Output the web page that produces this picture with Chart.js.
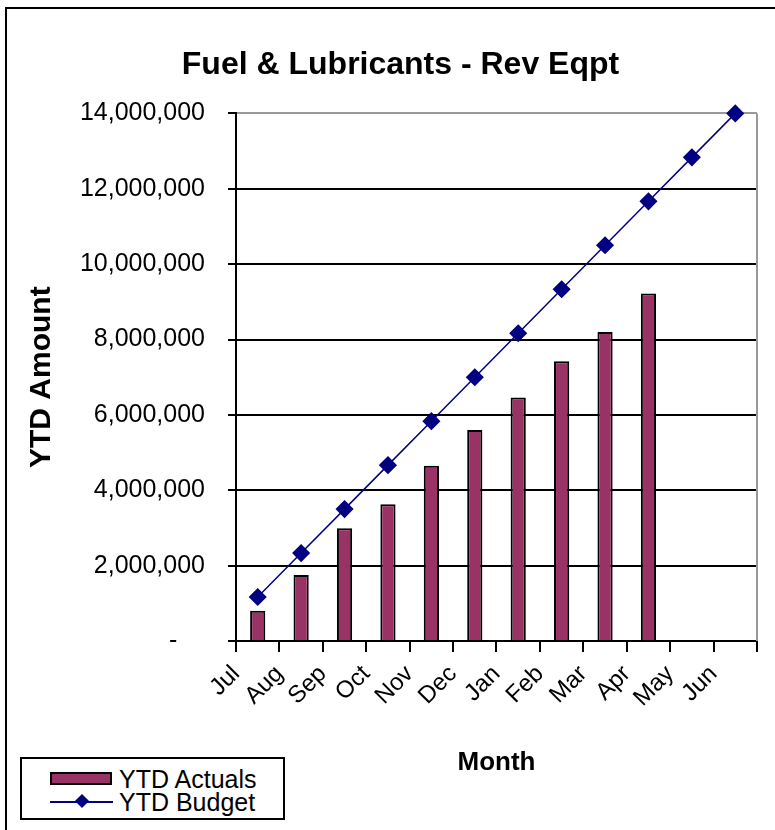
<!DOCTYPE html>
<html>
<head>
<meta charset="utf-8">
<title>Fuel &amp; Lubricants - Rev Eqpt</title>
<script src="https://cdn.jsdelivr.net/npm/chart.js@4.4.1/dist/chart.umd.min.js"></script>
<style>
  body { margin: 0; background: #fff; overflow: hidden; font-family: "Liberation Sans", Arial, sans-serif; }
  #frame { position: absolute; left: 5px; top: 7px; width: 900px; height: 900px; border: 2px solid #000; }
  #wrap { position: absolute; left: 0; top: 0; width: 775px; height: 830px; }
  #legend { position: absolute; left: 20px; top: 757px; width: 261px; height: 59px; border: 2px solid #000; background: #fff; }
  .row { position: absolute; left: 0; height: 24px; line-height: 24px; font-size: 25px; color: #000; }
  .row span.txt { position: absolute; left: 97px; white-space: nowrap; }
  .swatch-bar { position: absolute; left: 28px; top: 5px; width: 58px; height: 9px; background: #993366; border: 2px solid #000; }
  .swatch-line { position: absolute; left: 28px; top: 11px; width: 63px; height: 2px; background: #000080; }
  .swatch-dot { position: absolute; left: 55px; top: 6px; width: 10px; height: 10px; background: #000080; transform: rotate(45deg); }
</style>
</head>
<body>
<div id="frame"></div>
<div id="wrap"><canvas id="fuelChart" width="775" height="830"></canvas></div>
<div id="legend">
  <div class="row" style="top:8px"><div class="swatch-bar"></div><span class="txt">YTD Actuals</span></div>
  <div class="row" style="top:31px"><div class="swatch-line"></div><div class="swatch-dot"></div><span class="txt">YTD Budget</span></div>
</div>
<script>
const months = ['Jul', 'Aug', 'Sep', 'Oct', 'Nov', 'Dec', 'Jan', 'Feb', 'Mar', 'Apr', 'May', 'Jun'];
const ytdActuals = [800000, 1750000, 2990000, 3630000, 4650000, 5600000, 6460000, 7420000, 8200000, 9220000, null, null];
const ytdBudget = [1166667, 2333333, 3500000, 4666667, 5833333, 7000000, 8166667, 9333333, 10500000, 11666667, 12833333, 14000000];
const yTickValues = [0, 2000000, 4000000, 6000000, 8000000, 10000000, 12000000, 14000000];

// grey line on the right edge of the plot area
const plotBorder = {
  id: 'plotBorder',
  beforeDatasetsDraw(chart) {
    const { ctx, chartArea } = chart;
    ctx.save();
    ctx.strokeStyle = '#999';
    ctx.lineWidth = 2;
    ctx.beginPath();
    ctx.moveTo(chartArea.right, chartArea.top);
    ctx.lineTo(chartArea.right, chartArea.bottom);
    ctx.stroke();
    ctx.restore();
  }
};

const ctx = document.getElementById('fuelChart').getContext('2d');
new Chart(ctx, {
  data: {
    labels: months,
    datasets: [
      {
        type: 'line',
        label: 'YTD Budget',
        data: ytdBudget,
        order: 0,
        clip: false,
        borderColor: '#000080',
        borderWidth: 1.5,
        pointStyle: 'rectRot',
        pointRadius: 8,
        pointBackgroundColor: '#000080',
        pointBorderColor: '#000080',
        tension: 0,
        fill: false
      },
      {
        type: 'bar',
        label: 'YTD Actuals',
        data: ytdActuals,
        order: 1,
        backgroundColor: '#993366',
        borderColor: '#000',
        borderWidth: 2,
        barPercentage: 0.35,
        categoryPercentage: 1
      }
    ]
  },
  options: {
    responsive: false,
    animation: false,
    layout: { padding: { left: 44, right: 18, top: 0, bottom: 0 } },
    plugins: {
      legend: { display: false },
      tooltip: { enabled: false },
      title: {
        display: true,
        text: 'Fuel & Lubricants - Rev Eqpt',
        color: '#000',
        font: { family: 'Liberation Sans', size: 32, weight: 'bold' },
        padding: { top: 46, bottom: 29 }
      }
    },
    scales: {
      x: {
        offset: true,
        afterFit: scale => { scale.height = 189; },
        grid: { offset: true, drawOnChartArea: false, drawTicks: true, tickLength: 11, color: '#000', lineWidth: 2 },
        border: { display: true, color: '#000', width: 2 },
        ticks: {
          autoSkip: false, maxRotation: 45, minRotation: 45, labelOffset: -21.7, padding: 8,
          color: '#000', font: { family: 'Liberation Sans', size: 24 }
        },
        title: {
          display: true, text: 'Month', color: '#000',
          font: { family: 'Liberation Sans', size: 26, weight: 'bold' },
          padding: { top: 0, bottom: 52 }
        }
      },
      y: {
        min: 0,
        max: 14000000,
        afterFit: scale => { scale.width = 192; },
        afterBuildTicks: scale => { scale.ticks = yTickValues.map(v => ({ value: v })); },
        grid: {
          color: c => (c.tick && c.tick.value === 14000000 ? '#999' : '#000'),
          tickColor: '#000',
          lineWidth: 2, drawTicks: true, tickLength: 8
        },
        border: { display: true, color: '#000', width: 2 },
        ticks: {
          padding: 23, color: '#000', font: { family: 'Liberation Sans', size: 25 },
          callback: v => (v === 0 ? '-    ' : v.toLocaleString('en-US'))
        },
        title: {
          display: true, text: 'YTD Amount', color: '#000',
          font: { family: 'Liberation Sans', size: 30, weight: 'bold' },
          padding: { top: -20, bottom: 0 }
        }
      }
    }
  },
  plugins: [plotBorder]
});
</script>
</body>
</html>
